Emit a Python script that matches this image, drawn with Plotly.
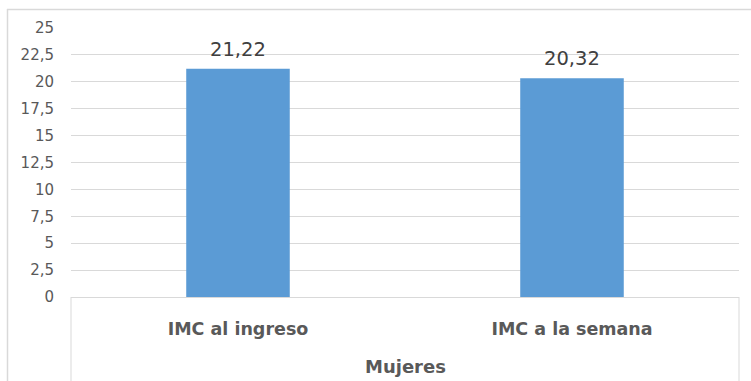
import plotly.graph_objects as go

# Body mass index of women at admission and one week later
categories = ["IMC al ingreso", "IMC a la semana"]
imc_values = [21.22, 20.32]
group_label = "Mujeres"
y_ticks = [0, 2.5, 5, 7.5, 10, 12.5, 15, 17.5, 20, 22.5, 25]

W, H = 751, 381
ML, MR, MT, MB = 71, 12, 28, 84
pw, ph = W - ML - MR, H - MT - MB

def px_x(p):
    return (p - ML) / pw

def px_y(p):
    return 1 - (p - MT) / ph

grid = "#d9d9d9"
text_grey = "#595959"
font_family = "DejaVu Sans, Verdana, sans-serif"

fig = go.Figure(
    go.Bar(
        x=categories,
        y=imc_values,
        marker=dict(color="#5b9bd5", line=dict(width=0)),
        width=0.31,
        hoverinfo="skip",
    )
)

# value labels above the bars, with decimal comma
for c, v in zip(categories, imc_values):
    fig.add_annotation(
        x=c, y=v, xref="x", yref="y",
        text=f"{v:.2f}".replace(".", ","),
        showarrow=False, yanchor="bottom", yshift=6,
        font=dict(size=19.5, color="#404040", family=font_family),
    )

# group label under the categories
fig.add_annotation(
    x=0.5, y=px_y(366), xref="paper", yref="paper",
    text=f"<b>{group_label}</b>", showarrow=False,
    xanchor="center", yanchor="middle",
    font=dict(size=18, color=text_grey, family=font_family),
)

# category axis box and chart border
shapes = [
    dict(type="line", xref="paper", yref="paper", x0=0, x1=0,
         y0=0, y1=px_y(H + 5), line=dict(color=grid, width=1)),
    dict(type="line", xref="paper", yref="paper", x0=1, x1=1,
         y0=0, y1=px_y(H + 5), line=dict(color=grid, width=1)),
    dict(type="line", xref="paper", yref="paper", x0=px_x(7), x1=px_x(W + 5),
         y0=px_y(9.5), y1=px_y(9.5), line=dict(color=grid, width=1.5)),
    dict(type="line", xref="paper", yref="paper", x0=px_x(7.5), x1=px_x(7.5),
         y0=px_y(9), y1=px_y(H + 5), line=dict(color=grid, width=1.5)),
]

fig.update_layout(
    width=W, height=H,
    margin=dict(l=ML, r=MR, t=MT, b=MB),
    paper_bgcolor="white", plot_bgcolor="white",
    separators=",.",
    showlegend=False,
    shapes=shapes,
    xaxis=dict(
        showgrid=False, zeroline=False,
        showline=True, linecolor=grid, linewidth=1,
        ticks="", ticklabelstandoff=16,
        tickfont=dict(size=17.5, color=text_grey, family=font_family),
        tickmode="array", tickvals=categories,
        ticktext=[f"<b>{c}</b>" for c in categories],
        fixedrange=True,
    ),
    yaxis=dict(
        range=[0, 25],
        tickmode="array", tickvals=y_ticks,
        ticktext=[f"{t:g}".replace(".", ",") for t in y_ticks],
        showgrid=True, gridcolor=grid, gridwidth=1,
        zeroline=False, showline=False, ticks="",
        ticklabelstandoff=16,
        tickfont=dict(size=15, color=text_grey, family=font_family),
        fixedrange=True,
    ),
)

fig.write_html("out.html")
